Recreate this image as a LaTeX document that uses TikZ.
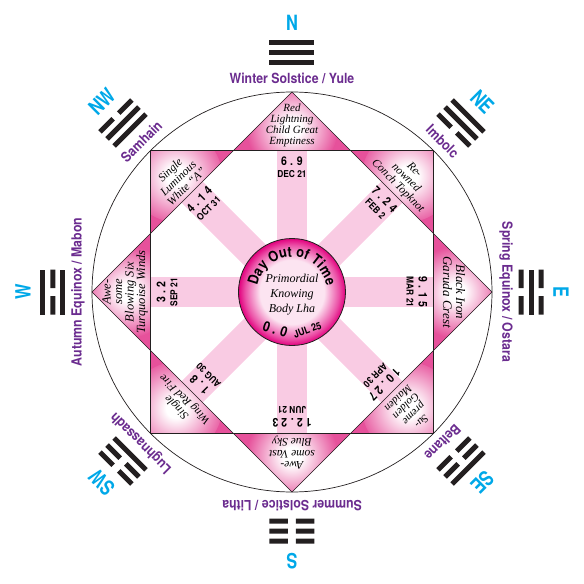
\documentclass[tikz,border=0pt]{standalone}
\usepackage{fontspec}
\setmainfont{Liberation Serif}
\newfontfamily\signfont[FakeStretch=0.88]{TeX Gyre Heros}
\newfontfamily\compassfont[FakeStretch=0.78]{TeX Gyre Heros}
\usetikzlibrary{decorations.text}
\definecolor{spokepink}{HTML}{F9CBE3}
\definecolor{plaquepink}{HTML}{E6519B}
\definecolor{discmagenta}{HTML}{E2007E}
\definecolor{discpale}{HTML}{FCE4F1}
\definecolor{seasonpurple}{HTML}{6B2C8F}
\definecolor{compasscyan}{HTML}{00A8E8}
\definecolor{ink}{HTML}{231F20}
\pgfdeclareradialshading{plaqueglow}{\pgfpoint{0bp}{0bp}}{color(0bp)=(white); color(5bp)=(white); color(25bp)=(plaquepink); color(50bp)=(plaquepink)}
\pgfdeclareradialshading{discglow}{\pgfpoint{0bp}{0bp}}{color(0bp)=(discpale); color(15bp)=(discpale); color(22bp)=(discmagenta!65!discpale); color(25bp)=(discmagenta); color(50bp)=(discmagenta)}
\tikzstyle{plaque} = [font=\itshape\fontsize{11.5}{11.5}\selectfont, align=center, inner sep=0pt]
\tikzstyle{season} = [font=\signfont\bfseries\fontsize{14}{14}\selectfont, text=seasonpurple, inner sep=0pt]
\tikzstyle{compass} = [font=\compassfont\bfseries\fontsize{21}{21}\selectfont, text=compasscyan, inner sep=0pt]
\tikzstyle{daynum} = [font=\signfont\bfseries\fontsize{12}{12}\selectfont, inner sep=0pt]
\tikzstyle{daymon} = [font=\signfont\bfseries\fontsize{9.5}{9.5}\selectfont, inner sep=0pt]
\tikzstyle{rim} = [draw=ink, line width=0.7pt]
\newcommand{\yang}[1]{\fill[ink] (-22.5,#1-2.5) rectangle (22.5,#1+2.5);}
\newcommand{\yin}[1]{\fill[ink] (-22.5,#1-2.5) rectangle (-4,#1+2.5) (4,#1-2.5) rectangle (22.5,#1+2.5);}
\begin{document}
\begin{tikzpicture}[x=1pt, y=1pt]
	\useasboundingbox (-292,-292) rectangle (292,292);
	\foreach \a in {0,45,...,315}
		\fill[spokepink, rotate=\a] (-15,0) rectangle (15,141.4);
	\foreach \a in {0,45,...,315} {
		\begin{scope}[rotate=\a]
			\fill[plaquepink] (0,200) -- (-58.6,141.4) -- (58.6,141.4) -- cycle;
			\clip (0,200) -- (-58.6,141.4) -- (58.6,141.4) -- cycle;
			\shade[shading=plaqueglow] (0,164) circle (46pt);
		\end{scope}
	}
	\draw[rim] (0,0) circle (200pt);
	\draw[rim] (45:200pt) -- (135:200pt) -- (225:200pt) -- (315:200pt) -- cycle;
	\draw[rim] (0:200pt) -- (90:200pt) -- (180:200pt) -- (270:200pt) -- cycle;
	\node (disc) at (0,0) [circle, draw=ink, line width=0.8pt, minimum size=107pt, shade, shading=discglow] {};
	\path[decorate, decoration={text along path, text align={fit to path},
		text={|\signfont\bfseries\fontsize{14.5}{14.5}\selectfont|Day Out of Time}}]
		(170:35pt) arc[start angle=170, end angle=10, radius=35pt];
	\node (lha) at (0,-3) [font=\itshape\fontsize{12}{15}\selectfont, align=center] {Primordial\\Knowing\\Body Lha};
	\node (zero) at (246:41pt) [font=\signfont\bfseries\fontsize{14}{14}\selectfont, rotate=-18, inner sep=0pt] {0 . 0};
	\node (jul25) at (292:41pt) [font=\signfont\bfseries\fontsize{10}{10}\selectfont, rotate=20, inner sep=0pt] {JUL 25};

	\node (red) at (90:167pt) [plaque, font=\itshape\fontsize{11}{11}\selectfont] {Red\\Lightning\\Child Great\\Emptiness};
	\node (conch) at (45:161pt) [plaque, rotate=-45] {Re-\\nowned\\Conch Topknot};
	\node (garuda) at (0:162pt) [plaque, rotate=-90, font=\itshape\fontsize{13}{13}\selectfont] {Black Iron\\Garuda Crest};
	\node (maiden) at (-45:167pt) [plaque, rotate=-135, font=\itshape\fontsize{11}{11}\selectfont] {Su-\\preme\\Golden\\Maiden};
	\node (bluesky) at (-90:161pt) [plaque, rotate=180] {Awe-\\some Vast\\Blue Sky};
	\node (redfire) at (-135:157pt) [plaque, rotate=135] {Single\\Wing Red Fire};
	\node (winds) at (180:167pt) [plaque, rotate=90, font=\itshape\fontsize{12.5}{11.5}\selectfont] {Awe-\\some\\Blowing Six\\Turquoise Winds};
	\node (whitea) at (135:161pt) [plaque, rotate=45] {Single\\Luminous\\White “A”};

	\node (n69) at (90:131pt) [daynum] {6 . 9};
	\node (dec21) at (90:118pt) [daymon] {DEC 21};
	\node (n724) at (45:131pt) [daynum, rotate=-45] {7 . 2 4};
	\node (feb2) at (45:118pt) [daymon, rotate=-45] {FEB 2};
	\node (n915) at (0:131pt) [daynum, rotate=-90] {9 . 1 5};
	\node (mar21) at (0:118pt) [daymon, rotate=-90] {MAR 21};
	\node (n1027) at (-45:131pt) [daynum, rotate=-135] {1 0 . 2 7};
	\node (apr30) at (-45:118pt) [daymon, rotate=-135] {APR 30};
	\node (n1223) at (-90:131pt) [daynum, rotate=180] {1 2 . 2 3};
	\node (jun21) at (-90:118pt) [daymon, rotate=180] {JUN 21};
	\node (n18) at (-135:131pt) [daynum, rotate=135] {1 . 8};
	\node (aug30) at (-135:118pt) [daymon, rotate=135] {AUG 30};
	\node (n32) at (180:131pt) [daynum, rotate=90] {3 . 2};
	\node (sep21) at (180:118pt) [daymon, rotate=90] {SEP 21};
	\node (n414) at (135:131pt) [daynum, rotate=45] {4 . 1 4};
	\node (oct31) at (135:118pt) [daymon, rotate=45] {OCT 31};

	\begin{scope}[rotate=0] \yang{229}\yang{239}\yang{249} \end{scope}
	\begin{scope}[rotate=-45] \yin{229}\yang{239}\yang{249} \end{scope}
	\begin{scope}[rotate=-90] \yin{229}\yang{239}\yin{249} \end{scope}
	\begin{scope}[rotate=-135] \yin{229}\yin{239}\yang{249} \end{scope}
	\begin{scope}[rotate=180] \yin{229}\yin{239}\yin{249} \end{scope}
	\begin{scope}[rotate=135] \yang{229}\yin{239}\yin{249} \end{scope}
	\begin{scope}[rotate=90] \yang{229}\yin{239}\yang{249} \end{scope}
	\begin{scope}[rotate=45] \yang{229}\yang{239}\yin{249} \end{scope}

	\node (yule) at (90:214pt) [season] {Winter Solstice / Yule};
	\node (imbolc) at (45:213pt) [season, rotate=-45] {Imbolc};
	\node (ostara) at (0:214pt) [season, rotate=-90] {Spring Equinox / Ostara};
	\node (beltane) at (-45:213pt) [season, rotate=-135] {Beltane};
	\node (litha) at (-90:214pt) [season, rotate=180] {Summer Solstice / Litha};
	\node (lugh) at (-135:213pt) [season, rotate=135] {Lughnassadh};
	\node (mabon) at (180:214pt) [season, rotate=90] {Autumn Equinox / Mabon};
	\node (samhain) at (135:213pt) [season, rotate=45] {Samhain};

	\node (north) at (90:269pt) [compass] {N};
	\node (ne) at (45:269pt) [compass, rotate=-45] {NE};
	\node (east) at (0:269pt) [compass, rotate=-90] {E};
	\node (se) at (-45:269pt) [compass, rotate=-135] {SE};
	\node (south) at (-90:269pt) [compass, rotate=180] {S};
	\node (sw) at (-135:269pt) [compass, rotate=135] {SW};
	\node (west) at (180:269pt) [compass, rotate=90] {W};
	\node (nw) at (135:269pt) [compass, rotate=45] {NW};
\end{tikzpicture}
\end{document}
